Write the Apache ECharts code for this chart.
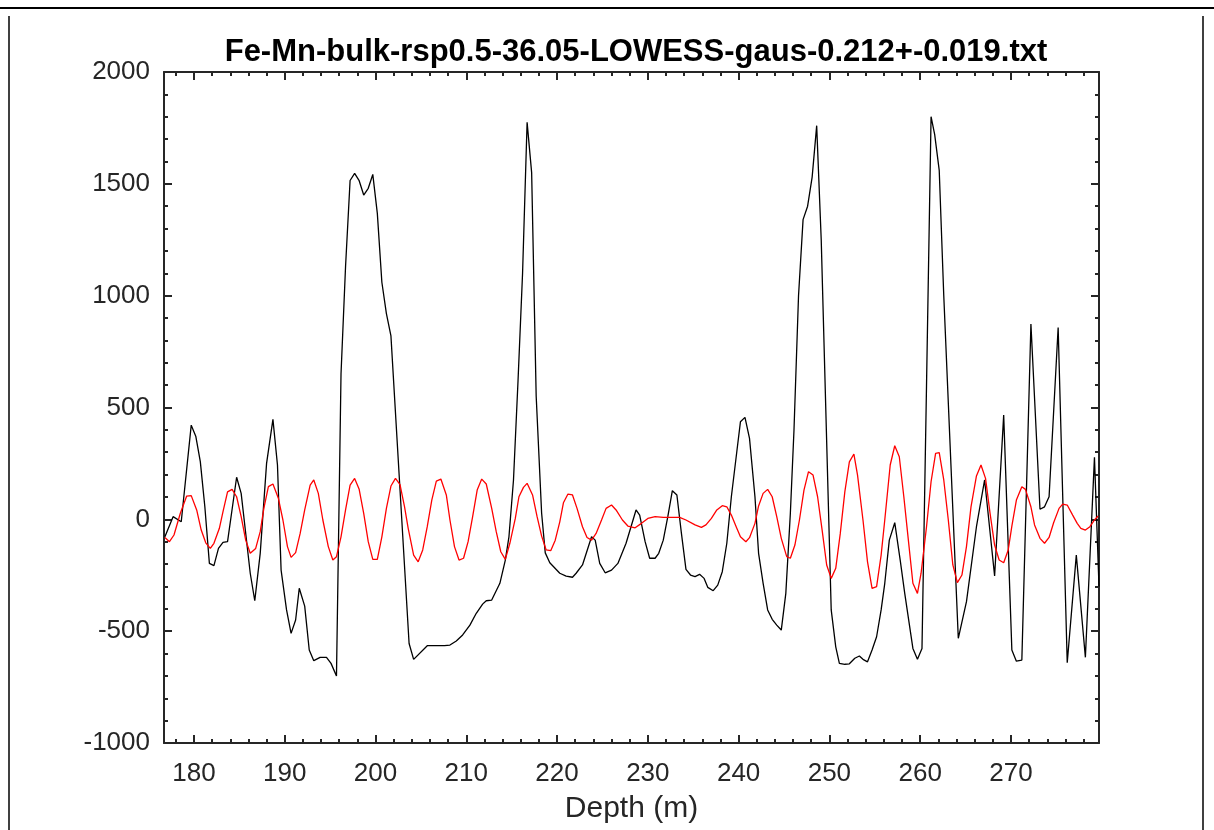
<!DOCTYPE html>
<html>
<head>
<meta charset="utf-8">
<script src="https://cdn.jsdelivr.net/npm/echarts@6/dist/echarts.min.js"></script>
<style>html,body{margin:0;padding:0;background:#fff}#c{width:1214px;height:830px}</style>
</head>
<body>
<div id="c"></div>
<script>
const titleText = 'Fe-Mn-bulk-rsp0.5-36.05-LOWESS-gaus-0.212+-0.019.txt';
const xName = 'Depth (m)';
const xMin = 176.7, xMax = 279.7;
const xMajorTicks = [180, 190, 200, 210, 220, 230, 240, 250, 260, 270];
const xMinorTicks = [178, 182, 184, 186, 188, 192, 194, 196, 198, 202, 204, 206, 208, 212, 214, 216, 218, 222, 224, 226, 228, 232, 234, 236, 238, 242, 244, 246, 248, 252, 254, 256, 258, 262, 264, 266, 268, 272, 274, 276, 278];
const yMin = -1000, yMax = 2000, yStep = 500;

const blackDepth = [176.8,177.7,178.6,179.7,180.2,180.7,181.2,181.7,182.2,182.7,183.2,183.7,184.7,185.2,186.2,186.7,187.3,188.0,188.7,189.2,189.6,190.2,190.7,191.2,191.6,192.2,192.7,193.2,193.9,194.6,195.1,195.7,196.2,196.7,197.2,197.7,198.2,198.7,199.2,199.7,200.2,200.7,201.2,201.7,203.7,204.2,205.7,206.3,207.6,208.2,208.9,209.6,210.4,211.1,211.8,212.2,212.8,213.7,214.3,214.7,215.2,215.7,216.2,216.7,217.2,217.7,218.3,218.7,219.2,220.3,221.0,221.7,222.1,222.8,223.8,224.2,224.7,225.3,226.0,226.7,227.6,228.7,229.1,229.7,230.2,230.8,231.2,231.7,232.2,232.7,233.2,233.7,234.2,234.7,235.2,235.7,236.2,236.6,237.2,237.7,238.2,238.7,239.2,239.8,240.2,240.7,241.2,241.8,242.2,242.7,243.2,243.7,244.2,244.7,245.2,245.7,246.1,246.6,247.1,247.6,248.1,248.6,249.1,250.2,250.7,251.1,251.7,252.2,252.8,253.3,253.7,254.2,254.7,255.2,255.7,256.1,256.6,257.2,257.8,258.3,259.2,259.7,260.2,260.7,261.2,261.6,262.1,262.6,264.2,265.1,266.2,267.1,268.2,269.2,270.1,270.6,271.2,272.2,273.2,273.7,274.2,275.2,276.2,277.2,278.2,279.2,279.7];
const blackValue = [-78,12,-11,421,372,258,56,-197,-207,-130,-103,-100,188,116,-241,-364,-152,250,447,243,-227,-405,-510,-450,-308,-388,-584,-632,-617,-617,-644,-700,650,1130,1515,1547,1514,1450,1480,1542,1368,1060,920,820,-555,-626,-565,-565,-565,-562,-544,-517,-473,-420,-379,-364,-361,-286,-182,-78,176,620,1100,1775,1550,550,27,-150,-194,-241,-254,-259,-241,-204,-78,-93,-197,-239,-227,-197,-107,42,19,-100,-174,-174,-152,-93,12,128,109,-63,-224,-249,-256,-246,-264,-304,-319,-294,-234,-107,101,302,436,456,362,101,-152,-286,-405,-447,-473,-495,-331,27,399,1000,1340,1400,1530,1760,1250,-405,-570,-644,-648,-646,-621,-611,-626,-637,-584,-525,-405,-286,-93,-15,-182,-331,-577,-626,-577,600,1800,1720,1560,1000,-532,-368,-33,176,-253,466,-584,-634,-629,873,45,56,101,858,-641,-160,-617,277,-300];

const redDepth = [176.8,177.3,177.8,178.5,179.2,179.7,180.3,180.8,181.3,181.8,182.2,182.8,183.2,183.7,184.2,184.7,185.2,185.7,186.2,186.8,187.3,187.7,188.2,188.7,189.3,189.8,190.3,190.7,191.2,191.7,192.2,192.8,193.2,193.7,194.2,194.8,195.3,195.7,196.2,196.7,197.2,197.7,198.2,198.7,199.2,199.7,200.2,200.7,201.2,201.7,202.2,202.7,203.2,203.6,204.2,204.7,205.2,205.7,206.2,206.7,207.2,207.8,208.2,208.7,209.2,209.7,210.2,210.7,211.2,211.7,212.2,212.8,213.3,213.8,214.3,214.8,215.4,215.8,216.3,216.7,217.3,217.8,218.3,218.8,219.3,219.8,220.3,220.7,221.2,221.7,222.2,222.8,223.3,223.8,224.3,224.9,225.4,226.0,226.5,227.2,227.8,228.6,229.3,230.0,230.8,231.7,232.6,233.5,234.2,235.2,235.9,236.4,237.0,237.6,238.2,238.7,239.2,239.8,240.2,240.8,241.2,241.8,242.2,242.7,243.2,243.7,244.2,244.7,245.3,245.7,246.2,246.7,247.2,247.7,248.2,248.7,249.2,249.7,250.2,250.7,251.2,251.7,252.2,252.7,253.1,253.7,254.2,254.7,255.2,255.7,256.1,256.7,257.2,257.7,258.2,258.7,259.2,259.7,260.1,260.7,261.2,261.7,262.1,262.6,263.1,263.6,264.1,264.6,265.1,265.6,266.2,266.7,267.2,267.7,268.2,268.7,269.2,269.7,270.1,270.6,271.2,271.6,272.2,272.6,273.2,273.7,274.2,274.7,275.3,275.7,276.2,276.8,277.3,277.7,278.2,278.7,279.2,279.6];
const redValue = [-81,-100,-70,27,104,106,42,-48,-105,-130,-107,-40,34,123,134,101,12,-93,-152,-130,-55,49,146,158,94,-3,-122,-170,-149,-63,42,153,176,116,-3,-122,-182,-167,-78,42,153,183,134,27,-100,-179,-179,-78,49,149,183,155,56,-40,-160,-190,-137,-33,86,171,180,109,-3,-122,-182,-174,-100,12,131,180,158,49,-55,-145,-179,-107,4,101,143,161,109,12,-75,-137,-140,-93,-11,74,113,109,49,-33,-81,-93,-63,-3,49,64,42,-3,-30,-38,-18,4,12,9,9,9,-3,-25,-36,-25,4,42,61,56,19,-40,-78,-100,-82,-18,60,116,134,101,12,-85,-167,-174,-115,-3,131,213,198,101,-48,-204,-264,-219,-63,123,257,292,198,-3,-190,-309,-301,-160,-3,243,329,280,101,-93,-286,-331,-241,-33,168,295,298,176,-3,-204,-283,-249,-122,56,194,243,183,27,-115,-182,-194,-137,-30,86,146,134,56,-25,-85,-107,-81,-15,49,68,64,19,-18,-40,-48,-33,-3,15];

const blackData = blackDepth.map((d, i) => [d, blackValue[i]]);
const redData = redDepth.map((d, i) => [d, redValue[i]]);

const AX = '#262626';
const FONT = '"Liberation Sans", Arial, sans-serif';

function xAx(pos, major, labels) {
  return {
    type: 'value', position: pos, min: xMin, max: xMax,
    axisLine: { show: major, onZero: false, lineStyle: { color: AX, width: 2 } },
    axisTick: { show: true, inside: true, length: major ? 8 : 4, customValues: major ? xMajorTicks : xMinorTicks, lineStyle: { color: AX, width: 2 } },
    axisLabel: labels ? { show: true, customValues: xMajorTicks, fontSize: 26, color: AX, fontFamily: FONT, margin: 18, formatter: v => String(v) } : { show: false },
    splitLine: { show: false },
    name: labels ? xName : '', nameLocation: 'middle', nameGap: 51,
    nameTextStyle: { fontSize: 30, color: AX, fontFamily: FONT }
  };
}
function yAx(pos, labels) {
  return {
    type: 'value', position: pos, min: yMin, max: yMax, interval: yStep,
    axisLine: { show: true, onZero: false, lineStyle: { color: AX, width: 2 } },
    axisTick: { show: true, inside: true, length: 8, lineStyle: { color: AX, width: 2 } },
    minorTick: { show: true, splitNumber: 5, length: 4, lineStyle: { color: AX, width: 2 } },
    axisLabel: labels ? { show: true, fontSize: 26, color: AX, fontFamily: FONT, margin: 14, formatter: v => String(v) } : { show: false },
    splitLine: { show: false }
  };
}

const chart = echarts.init(document.getElementById('c'), null, { renderer: 'canvas' });
chart.setOption({
  backgroundColor: '#ffffff',
  animation: false,
  title: {
    text: titleText, left: 631, top: 32, textAlign: 'center',
    textStyle: { fontSize: 31, fontWeight: 'bold', color: '#000', fontFamily: FONT }
  },
  grid: { left: 164, right: 115, top: 72, bottom: 87, containLabel: false },
  xAxis: [xAx('bottom', true, true), xAx('bottom', false, false), xAx('top', true, false), xAx('top', false, false)],
  yAxis: [yAx('left', true), yAx('right', false)],
  graphic: [
    { type: 'line', shape: { x1: 0, y1: 8, x2: 1214, y2: 8 }, style: { stroke: '#000', lineWidth: 2 } },
    { type: 'line', shape: { x1: 9, y1: 16, x2: 9, y2: 830 }, style: { stroke: '#000', lineWidth: 1.5 } },
    { type: 'line', shape: { x1: 1203, y1: 16, x2: 1203, y2: 830 }, style: { stroke: '#000', lineWidth: 1.5 } }
  ],
  series: [
    { type: 'line', name: 'data', data: blackData, xAxisIndex: 0, yAxisIndex: 0, showSymbol: false, lineStyle: { color: '#000', width: 1.3 }, z: 3 },
    { type: 'line', name: 'filter', data: redData, xAxisIndex: 0, yAxisIndex: 0, showSymbol: false, lineStyle: { color: '#ff0000', width: 1.3 }, z: 4 }
  ]
});
</script>
</body>
</html>
